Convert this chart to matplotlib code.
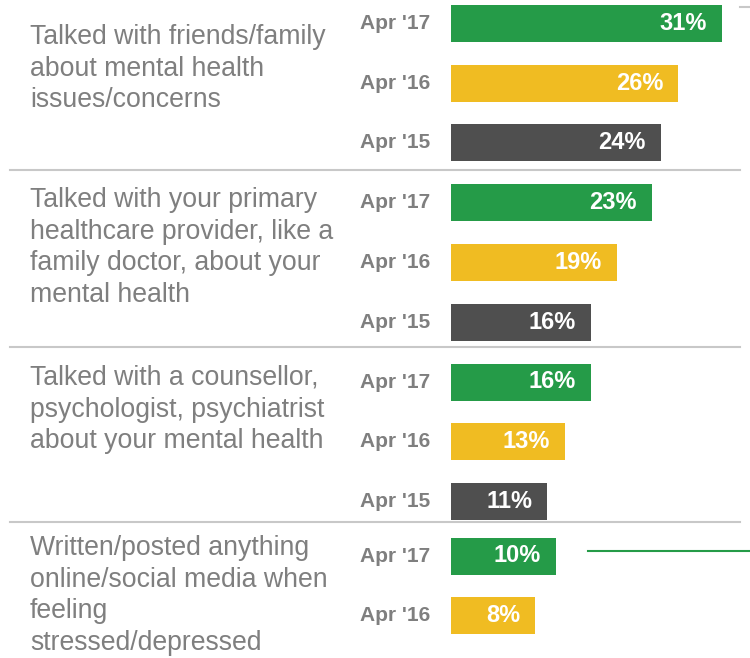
import matplotlib
matplotlib.use("Agg")
import matplotlib.pyplot as plt
from matplotlib.lines import Line2D

plt.rcParams["font.family"] = ["Liberation Sans", "DejaVu Sans"]

# data
categories = [
    "Talked with friends/family\nabout mental health\nissues/concerns",
    "Talked with your primary\nhealthcare provider, like a\nfamily doctor, about your\nmental health",
    "Talked with a counsellor,\npsychologist, psychiatrist\nabout your mental health",
    "Written/posted anything\nonline/social media when\nfeeling\nstressed/depressed",
]
periods = ["Apr '17", "Apr '16", "Apr '15"]
values = [
    [31, 26, 24],
    [23, 19, 16],
    [16, 13, 11],
    [10, 8],
]
colors = ["#259b48", "#f0bc22", "#4f4f4f"]

# layout (pixels)
W, H = 750, 658
row_step = 59.7
bar_h = 37
bar_left = 451
first_row = [23.5, 203, 382, 556]
text_top = [24, 187, 365, 535]
px_per_pct = [8.74, 8.74, 8.74, 10.5]
separators = [170, 347, 522]
label_grey = "#7f7f7f"

fig = plt.figure(figsize=(W / 100, H / 100), dpi=100)


def add_px_axes(x, y, w, h):
    return fig.add_axes([x / W, 1 - (y + h) / H, w / W, h / H])


for g, vals in enumerate(values):
    n = len(vals)
    top = first_row[g] - row_step / 2
    ax = add_px_axes(bar_left, top, W - bar_left, n * row_step)
    ax.set_ylim(n - 0.5, -0.5)
    ax.set_xlim(0, (W - bar_left) / px_per_pct[g])
    ax.axis("off")
    ax.barh(range(n), vals, height=bar_h / row_step, color=colors[:n])
    for i, v in enumerate(vals):
        ax.annotate(f"{v}%", xy=(v, i), xytext=(-15, 0), textcoords="offset pixels",
                    ha="right", va="center", color="white", fontsize=17,
                    fontweight="bold")
        ax.annotate(periods[i], xy=(0, i), xytext=(-21, 0), textcoords="offset pixels",
                    ha="right", va="center", color=label_grey, fontsize=15,
                    fontweight="bold", annotation_clip=False)
    fig.text(30 / W, 1 - text_top[g] / H, categories[g], ha="left", va="top",
             fontsize=19.2, color=label_grey, linespacing=1.28)

for y in separators:
    fig.add_artist(Line2D([10 / W, 740 / W], [1 - y / H] * 2, color="#c8c8c8", lw=1.5))

# stray marks in the original
fig.add_artist(Line2D([740 / W, 750 / W], [1 - 7 / H] * 2, color="#c8c8c8", lw=1.5))
fig.add_artist(Line2D([588 / W, 750 / W], [1 - 551 / H] * 2, color="#259b48", lw=1.5))

fig.savefig("out.png", dpi=100)
